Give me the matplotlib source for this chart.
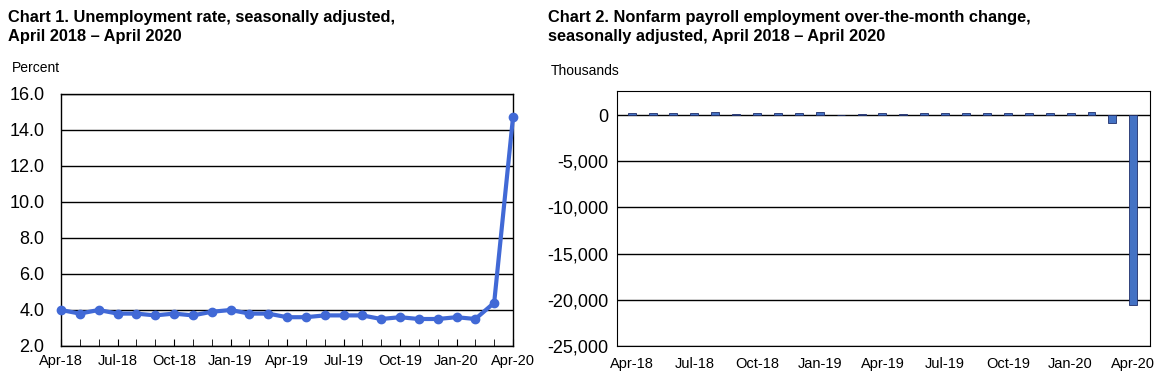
import matplotlib.pyplot as plt
import numpy as np

plt.rcParams['font.family'] = ['Liberation Sans', 'DejaVu Sans']

months = ['Apr-18', 'May-18', 'Jun-18', 'Jul-18', 'Aug-18', 'Sep-18', 'Oct-18', 'Nov-18',
          'Dec-18', 'Jan-19', 'Feb-19', 'Mar-19', 'Apr-19', 'May-19', 'Jun-19', 'Jul-19',
          'Aug-19', 'Sep-19', 'Oct-19', 'Nov-19', 'Dec-19', 'Jan-20', 'Feb-20', 'Mar-20', 'Apr-20']

# unemployment rate, percent
unemp = [4.0, 3.8, 4.0, 3.8, 3.8, 3.7, 3.8, 3.7, 3.9, 4.0, 3.8, 3.8, 3.6,
         3.6, 3.7, 3.7, 3.7, 3.5, 3.6, 3.5, 3.5, 3.6, 3.5, 4.4, 14.7]

# nonfarm payroll over-the-month change, thousands
payroll = [176, 270, 235, 165, 282, 108, 187, 176, 182, 312, 1, 147, 210,
           85, 182, 194, 207, 208, 185, 261, 184, 214, 275, -870, -20537]

x = np.arange(len(months))
label_idx = x[::3]

fig = plt.figure(figsize=(11.7, 3.89), dpi=100)

# chart 1
ax1 = fig.add_axes([61/1170, 1 - 346/389, (513 - 61)/1170, (346 - 94)/389])
ax1.plot(x, unemp, color='#4169D6', lw=3, marker='o', ms=6, clip_on=False, zorder=3)
ax1.set_xlim(0, 24)
ax1.set_ylim(2, 16)
ax1.set_yticks(np.arange(2, 16.1, 2))
ax1.set_yticklabels([f'{v:.1f}' for v in np.arange(2, 16.1, 2)], fontsize=13)
ax1.yaxis.grid(True, color='black', lw=1)
ax1.set_axisbelow(True)
ax1.tick_params(axis='y', length=0, pad=12)
ax1.set_xticks(x, minor=True)
ax1.set_xticks(label_idx)
ax1.set_xticklabels([months[i] for i in label_idx], fontsize=10.5)
ax1.tick_params(axis='x', which='both', direction='in', length=5, pad=6)
for s in ax1.spines.values():
    s.set_linewidth(1)
fig.text(8/1170, 1 - 27/389, 'Chart 1. Unemployment rate, seasonally adjusted,\nApril 2018 \u2013 April 2020',
         fontsize=11.8, fontweight='bold', va='center', linespacing=1.35)
fig.text(12/1170, 1 - 68/389, 'Percent', fontsize=10, va='center')

# chart 2
ax2 = fig.add_axes([617/1170, 1 - 346/389, (1150 - 617)/1170, (346 - 91)/389])
ax2.bar(x, payroll, width=0.38, color='#4472C4', edgecolor='#1F2F6B', lw=0.6, zorder=3)
ax2.set_xlim(-0.7, 24.8)
ax2.set_ylim(-25000, 2600)
yt = np.arange(-25000, 1, 5000)
ax2.set_yticks(yt)
ax2.set_yticklabels([f'{v:,}' for v in yt], fontsize=13)
ax2.yaxis.grid(True, color='black', lw=1)
ax2.set_axisbelow(True)
ax2.tick_params(axis='y', length=0, pad=6)
ax2.set_xticks(label_idx)
ax2.set_xticklabels([months[i] for i in label_idx], fontsize=10.5)
ax2.tick_params(axis='x', length=0, pad=8)
fig.text(548/1170, 1 - 27/389, 'Chart 2. Nonfarm payroll employment over-the-month change,\nseasonally adjusted, April 2018 \u2013 April 2020',
         fontsize=11.8, fontweight='bold', va='center', linespacing=1.35)
fig.text(551/1170, 1 - 71/389, 'Thousands', fontsize=10, va='center')

fig.savefig('out.png', dpi=100)
